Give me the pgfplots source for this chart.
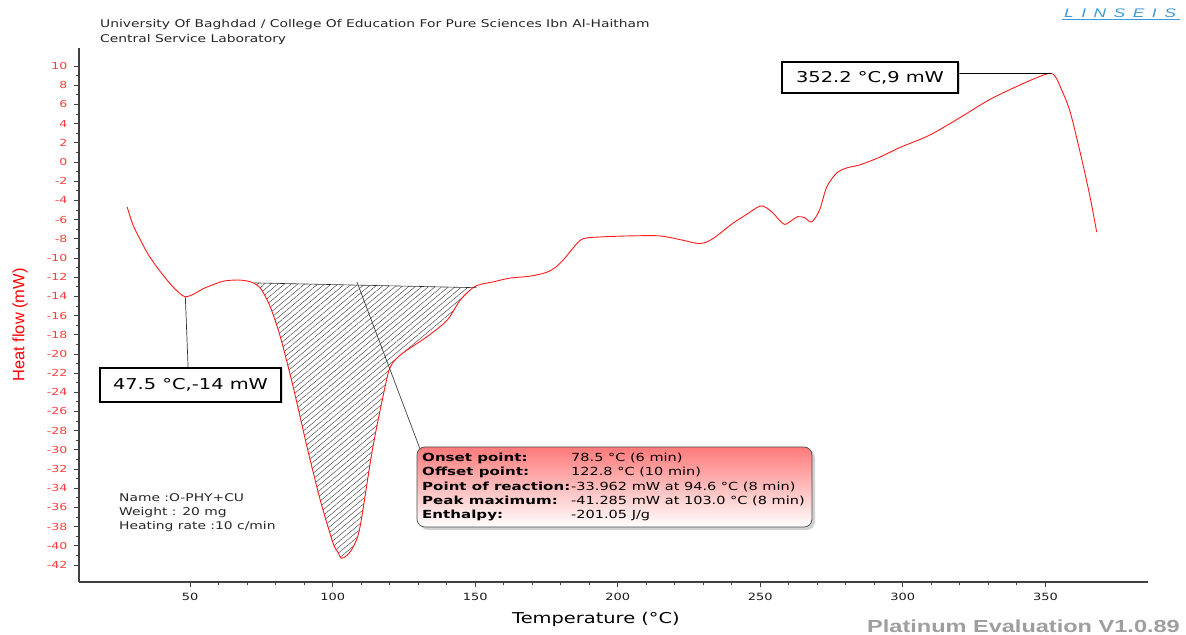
\documentclass[border=0pt]{standalone}
\usepackage{fontspec}
\setmainfont{DejaVu Sans}[FakeStretch=1.3]
\newfontfamily\infobold{DejaVu Sans Bold}[FakeStretch=1.35]
\newfontfamily\arialfont{Liberation Sans}
\newfontfamily\platfont{Liberation Sans}[FakeStretch=1.35]
\newfontfamily\logofont{Liberation Sans}[LetterSpace=60, FakeStretch=1.4]
\usepackage{pgfplots}
\pgfplotsset{compat=1.18}
\usepgfplotslibrary{fillbetween}
\usetikzlibrary{patterns.meta,shadows}
\definecolor{curvered}{HTML}{FF1A1A}
\definecolor{ticklab}{HTML}{FF3C3C}
\definecolor{logoblue}{HTML}{3A9AD9}
\definecolor{boxtop}{HTML}{FF7A7A}
\newcommand\lab[1]{\makebox[149bp][l]{\infobold #1}}
\begin{document}
\begin{tikzpicture}[x=1bp,y=1bp]
\begin{axis}[
  at={(0,0)}, anchor=south west,
  scale only axis, width=1069bp, height=534bp,
  xmin=11, xmax=386, ymin=-43.77, ymax=11.88,
  axis lines=left, axis line style={-, line width=1.2bp, black!75},
  xtick={50,100,...,350}, minor x tick num=4,
  ytick={-42,-40,...,10}, minor y tick num=1,
  tick align=outside,
  major tick length=5bp, minor tick length=3bp,
  tick style={black!75, line width=0.8bp},
  /pgf/number format/assume math mode=true,
  xticklabel style={font=\fontsize{10}{12}\selectfont, text=black!90, yshift=-3bp},
  yticklabel style={font=\fontsize{9.7}{12}\selectfont, text=ticklab, xshift=-3bp},
  clip=false,
]
\addplot[name path=curve, curvered, line width=0.9bp, smooth, tension=0.5] coordinates {
(27.9,-4.7) (30,-6.6) (32.5,-8.1) (35,-9.5) (37.7,-10.7) (40,-11.6) (43,-12.7)
(46,-13.6) (48.3,-14.05) (51,-13.8) (54.6,-13.2) (58.8,-12.7) (62,-12.4)
(66.5,-12.3) (70,-12.4) (72.5,-12.65) (75,-13.3) (78.1,-15.1) (81.6,-18.2)
(86.1,-23.4) (91,-29.7) (95.6,-35.2) (100.1,-39.7) (101.9,-40.7) (103,-41.3)
(105,-41.0) (107.2,-40.1) (109.6,-38.0) (114.1,-29.7) (118.9,-22.7) (120.5,-21.2)
(123,-20.3) (126.1,-19.6) (133.1,-18.2) (140.1,-16.5) (144.7,-14.4) (149.2,-13.1)
(152,-12.75) (156.2,-12.5) (162.2,-12.1) (169.2,-11.9) (175,-11.5) (178.5,-10.9)
(181.5,-10.0) (184.5,-8.9) (187.8,-8.0) (194.8,-7.8) (205,-7.7) (214.7,-7.7)
(222,-8.1) (228.8,-8.5) (233.3,-8.0) (240.3,-6.4) (245,-5.5) (249.8,-4.6)
(252,-4.75) (254.4,-5.3) (256.5,-6.0) (258.6,-6.5) (261,-6.1) (263.1,-5.7)
(265.5,-5.8) (268,-6.25) (270.8,-5.0) (273.3,-2.6) (276.8,-1.15) (280.5,-0.6)
(284.9,-0.3) (291.9,0.5) (298.9,1.5) (309.4,2.8) (319.9,4.6) (330.4,6.5)
(340.9,8.0) (347.9,8.9) (351.8,9.25) (353.5,8.9) (355,8.0) (358.5,5.4)
(362,1.25) (365.5,-3.4) (368,-7.3)
};
\addplot[name path=base, black!80, line width=0.6bp] coordinates {(72.4,-12.6) (150.5,-13.1)};
\addplot[pattern={Lines[angle=40,distance=4.3bp,line width=0.45bp]}, pattern color=black!75]
  fill between[of=curve and base, soft clip={domain=72.4:150.5}];
% leader lines
\draw[black!80, line width=0.7bp] (axis cs:48.3,-14.05) -- (axis cs:49.3,-21.6);
\draw[black, line width=0.7bp] (axis cs:351.8,9.25) -- (axis cs:319.3,9.25);
\draw[black!75, line width=0.7bp] (axis cs:108.5,-12.5) -- (axis cs:131,-30.2);
\end{axis}
% y label
\node[rotate=90, font=\arialfont\fontsize{16.5}{18}\selectfont, text=red] at (-59,257) {Heat flow (mW)};
% x label
\node[font=\fontsize{15}{17}\selectfont] at (517,-37) {Temperature (°C)};
% header
\node[anchor=west, font=\fontsize{10.7}{12}\selectfont, text=black!85, inner sep=0] at (21,557) {University Of Baghdad / College Of Education For Pure Sciences Ibn Al-Haitham};
\node[anchor=west, font=\fontsize{10.7}{12}\selectfont, text=black!85, inner sep=0] at (21,542) {Central Service Laboratory};
% sample info
\node[anchor=north west, font=\fontsize{10.7}{14.5}\selectfont, text=black!85, inner sep=0, align=left] at (40,89) {Name :O-PHY+CU\\Weight : 20 mg\\Heating rate :10 c/min};
% annotation boxes
\node[draw=black, line width=1.7bp, fill=white, drop shadow={shadow xshift=1.5bp, shadow yshift=-1.5bp, fill=black!30}, minimum width=181bp, minimum height=34bp, font=\fontsize{15}{17}\selectfont, inner sep=0] at (111.5,197) {47.5 °C,-14 mW};
\node[draw=black, line width=1.7bp, fill=white, drop shadow={shadow xshift=1.5bp, shadow yshift=-1.5bp, fill=black!30}, minimum width=176bp, minimum height=31bp, font=\fontsize{15}{17}\selectfont, inner sep=0] at (791,504.5) {352.2 °C,9 mW};
% info box
\shade[top color=boxtop, bottom color=white, draw=black!70, line width=0.7bp, rounded corners=8bp, drop shadow={shadow xshift=3bp, shadow yshift=-3bp, fill=black!35}] (338,55) rectangle (733,135);
\node[anchor=north west, inner sep=0, font=\fontsize{11.2}{14.3}\selectfont] at (343,130.5) {%
\begin{tabular}{@{}l@{}l@{}}
\lab{Onset point:} & 78.5 °C (6 min)\\
\lab{Offset point:} & 122.8 °C (10 min)\\
\lab{Point of reaction:} & -33.962 mW at 94.6 °C (8 min)\\
\lab{Peak maximum:} & -41.285 mW at 103.0 °C (8 min)\\
\lab{Enthalpy:} & -201.05 J/g
\end{tabular}};
% footer
\node[anchor=east, font=\platfont\bfseries\fontsize{17.5}{19}\selectfont, text=black!38, inner sep=0] at (1101,-44) {Platinum Evaluation V1.0.89};
% logo
\node[anchor=base west, font=\logofont\itshape\fontsize{12.5}{14}\selectfont, text=logoblue, inner sep=0] at (985,564) {LINSEIS};
\draw[logoblue, line width=1bp] (983,562.5) -- (1101,562.5);
\pgfresetboundingbox
\path[use as bounding box] (-79,-53) rectangle (1107,582);
\end{tikzpicture}
\end{document}
